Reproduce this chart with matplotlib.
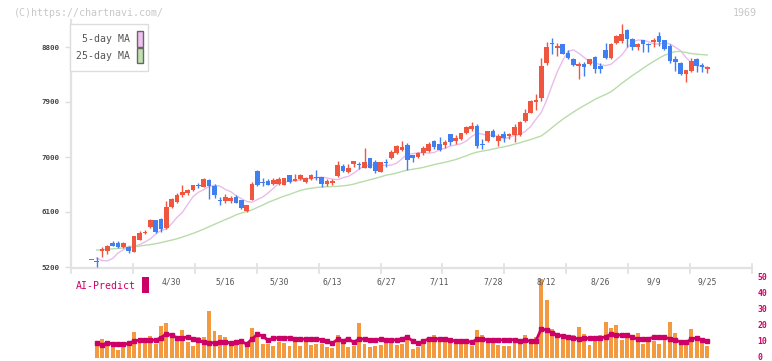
import numpy as np
import pandas as pd
import matplotlib
matplotlib.use("Agg")
import matplotlib.pyplot as plt
import matplotlib.transforms as mtransforms
from matplotlib.patches import Rectangle
from matplotlib.lines import Line2D

# ---------------- data ----------------
opens = [5315, 5300, 5467, 5467, 5593, 5588, 5522, 5533, 5450, 5642,
         5751, 5860, 5969, 5985, 5833, 6187, 6269, 6378, 6405, 6460,
         6535, 6514, 6624, 6530, 6290, 6280, 6280, 6345, 6296, 6116,
         6296, 6771, 6590, 6607, 6558, 6558, 6542, 6705, 6612, 6634,
         6596, 6640, 6665, 6672, 6558, 6569, 6694, 6852, 6760, 6890,
         6885, 6825, 6978, 6918, 6760, 6910, 6989, 7060, 7115, 7196,
         7033, 7005, 7060, 7103, 7256, 7212, 7196, 7376, 7262, 7289,
         7398, 7458, 7507, 7218, 7262, 7425, 7267, 7376, 7349, 7360,
         7360, 7589, 7725, 7905, 7960, 8533, 8865, 8789, 8849, 8696,
         8599, 8494, 8522, 8517, 8643, 8494, 8751, 8626, 8871, 8903,
         9078, 8930, 8805, 8914, 8852, 8887, 8985, 8914, 8816, 8604,
         8544, 8353, 8413, 8604, 8505, 8440]
highs = [5315, 5364, 5522, 5560, 5625, 5620, 5605, 5540, 5712, 5784,
         5805, 5980, 5975, 5997, 6285, 6324, 6416, 6542, 6481, 6550,
         6569, 6650, 6640, 6558, 6350, 6389, 6370, 6372, 6300, 6220,
         6596, 6787, 6651, 6640, 6661, 6670, 6655, 6710, 6716, 6720,
         6680, 6725, 6787, 6680, 6640, 6640, 6934, 6885, 6880, 6940,
         6923, 7150, 6985, 6951, 6925, 6962, 7115, 7200, 7262, 7224,
         7040, 7090, 7180, 7240, 7285, 7322, 7285, 7380, 7360, 7400,
         7510, 7567, 7540, 7294, 7430, 7460, 7370, 7420, 7400, 7540,
         7585, 7780, 7925, 8030, 8615, 8887, 8953, 8860, 8855, 8751,
         8620, 8560, 8560, 8610, 8650, 8533, 8865, 8865, 9000, 9176,
         9090, 8940, 8865, 8920, 8870, 8942, 9040, 8920, 8844, 8652,
         8550, 8430, 8626, 8615, 8544, 8489]
lows = [5315, 5205, 5359, 5413, 5540, 5518, 5510, 5434, 5445, 5636,
        5740, 5838, 5761, 5778, 5817, 6170, 6247, 6345, 6383, 6450,
        6488, 6505, 6307, 6334, 6214, 6242, 6250, 6242, 6144, 6105,
        6290, 6525, 6530, 6540, 6542, 6540, 6535, 6575, 6605, 6620,
        6580, 6625, 6624, 6514, 6525, 6550, 6680, 6754, 6740, 6832,
        6799, 6815, 6820, 6743, 6755, 6842, 6967, 7050, 7100, 6787,
        6923, 6985, 7040, 7090, 7130, 7100, 7150, 7190, 7220, 7280,
        7380, 7425, 7142, 7131, 7240, 7320, 7185, 7250, 7290, 7240,
        7350, 7567, 7715, 7769, 7916, 8505, 8680, 8658, 8685, 8600,
        8490, 8276, 8330, 8500, 8369, 8369, 8599, 8599, 8850, 8871,
        8794, 8751, 8751, 8713, 8723, 8805, 8816, 8751, 8544, 8413,
        8342, 8233, 8397, 8397, 8397, 8369]
closes = [5315, 5290, 5500, 5549, 5544, 5522, 5588, 5467, 5707, 5760,
          5778, 5969, 5778, 5822, 6187, 6307, 6378, 6432, 6460, 6537,
          6525, 6646, 6525, 6378, 6280, 6340, 6334, 6252, 6160, 6214,
          6558, 6542, 6580, 6547, 6624, 6640, 6651, 6586, 6634, 6705,
          6661, 6705, 6655, 6558, 6612, 6612, 6869, 6771, 6820, 6934,
          6875, 6918, 6825, 6776, 6918, 6900, 7076, 7185, 7158, 6945,
          6989, 7071, 7152, 7212, 7163, 7114, 7250, 7250, 7305, 7387,
          7486, 7512, 7185, 7196, 7425, 7332, 7343, 7305, 7376, 7496,
          7578, 7725, 7916, 7932, 8489, 8794, 8855, 8816, 8691, 8615,
          8505, 8522, 8478, 8599, 8440, 8440, 8626, 8849, 8980, 9012,
          8930, 8794, 8849, 8843, 8846, 8914, 8887, 8767, 8577, 8560,
          8358, 8424, 8571, 8494, 8467, 8467]

# moving-average values before enough history exists
ma5_head = [np.nan, 5345, 5305, 5300, 5340, 5430]
ma25_head = [np.nan, 5478, 5483, 5490, 5497, 5505, 5513, 5522, 5532, 5543,
             5555, 5567, 5580, 5598, 5620, 5640, 5662, 5690, 5720, 5750,
             5785, 5820, 5860, 5898, 5937, 5975]

volume = [0, 9.8, 11.7, 8.6, 6.7, 4.8, 7.9, 10.4, 16, 12.3,
          9.8, 13.6, 8.6, 19.8, 21.7, 12.9, 12.1, 17.3, 9.8, 7.3,
          12.9, 12.9, 29.2, 16.7, 14, 12.7, 7.3, 9.8, 8.6, 9.2,
          18.5, 12.9, 8.6, 8.6, 7.3, 9.8, 9.2, 7.3, 9.8, 7.3,
          11, 8, 8.6, 8.6, 6.9, 6.3, 14.2, 9.4, 6.9, 7.3,
          21.7, 8.6, 6.7, 7.3, 7.9, 9.2, 9.2, 7.9, 8.6, 14.2,
          5.4, 6.7, 8.6, 9.8, 14.2, 12.5, 9.8, 11.7, 8.6, 9.8,
          9.8, 7.3, 17.3, 14.2, 10.4, 11.7, 7.9, 7.3, 7.3, 10.4,
          8.6, 14.2, 11.7, 12.9, 49.2, 36, 18, 13.6, 12.9, 11.7,
          14.2, 19.2, 14.8, 7.9, 11.7, 14.2, 22.3, 18.5, 20.4, 11,
          12.3, 11.7, 15.4, 8.6, 9.8, 10.4, 8.6, 14.2, 22.3, 15.4,
          9.2, 11, 18, 12.3, 9.8, 7.3]
ai_predict = [np.nan, 9.4, 7.8, 9.4, 8.6, 8.3, 8.3, 9.0, 10.4, 11,
              11, 11, 11, 12.5, 15, 14, 12.5, 12.5, 12.8, 11.8,
              10.8, 9.6, 9.2, 9.4, 9.6, 9.6, 9.4, 9.6, 10.2, 8.5,
              11.7, 14.6, 13.6, 10.8, 12.2, 12.5, 12.5, 12.5, 11.5, 11.8,
              11.5, 11.5, 11.7, 11.3, 10.2, 9.0, 11.5, 10.6, 11.7, 9.6,
              11.7, 11.7, 11.2, 10.8, 11.7, 11.3, 11.3, 11, 11.9, 12.7,
              10.5, 9.0, 10.2, 11.9, 11.9, 11.7, 11.7, 10.8, 10.6, 10.4,
              10.4, 9.6, 11.5, 11.5, 11.3, 11.3, 11.3, 11, 11.3, 11.3,
              10.2, 11, 10.2, 10.5, 18.2, 17.1, 15.7, 14.2, 13.5, 13.2,
              12.1, 11.9, 12.1, 12.1, 12.1, 12.1, 13.2, 14.6, 14.2, 14.2,
              14, 12.7, 11.7, 11.7, 11.9, 12.7, 12.7, 12.7, 11.9, 11,
              9.9, 9.6, 11.5, 12.5, 11, 10.4]

date_labels = ['4/30', '5/16', '5/30', '6/13', '6/27', '7/11',
               '7/28', '8/12', '8/26', '9/9', '9/25']
date_label_idx = [15, 25, 35, 45, 55, 65, 75, 85, 95, 105, 115]
price_ticks = [5200, 6100, 7000, 7900, 8800]
vol_ticks = [0, 10, 20, 30, 40, 50]

# ---------------- derived series ----------------
n = len(closes)
idx = np.arange(n)
c = pd.Series(closes[1:], index=idx[1:], dtype=float)
ma5 = c.rolling(5).mean().shift(1).reindex(idx)
ma25 = c.rolling(25).mean().shift(1).reindex(idx)
for k, v in enumerate(ma5_head):
    ma5.iloc[k] = v
for k, v in enumerate(ma25_head):
    ma25.iloc[k] = v

# ---------------- layout ----------------
W, H = 772, 361
fig = plt.figure(figsize=(W / 100, H / 100), dpi=100)
fig.patch.set_facecolor('white')
MONO = 'DejaVu Sans Mono'

def fx(px):
    return px / W

def fy(py):
    return 1 - py / H

X_L, X_R = 71, 752
X0, DX = 91.3, 5.357
xlim = ((X_L - X0) / DX, (X_R - X0) / DX)

PY_TOP, PY_BOT = 20, 268
PPX = 900 / 55.0

def price_at(py):
    return 5200 + (267 - py) * PPX

ax = fig.add_axes([fx(X_L), fy(PY_BOT), fx(X_R - X_L), (PY_BOT - PY_TOP) / H])
ax.set_xlim(*xlim)
ax.set_ylim(price_at(PY_BOT), price_at(PY_TOP))
for s in ['top', 'right']:
    ax.spines[s].set_visible(False)
for s in ['left', 'bottom']:
    ax.spines[s].set_color('#e2e2e2')
    ax.spines[s].set_linewidth(1.6)
ax.set_xticks([])
ax.set_yticks(price_ticks)
ax.set_yticklabels([str(t) for t in price_ticks], family=MONO, fontsize=5.4,
                   color='#444444', fontweight='bold')
ax.tick_params(axis='y', length=4.3, width=1, color='#dddddd', pad=4)

UP, DOWN = '#f0553f', '#3f7fef'
MIN_H = PPX * 1.0
for i in range(n):
    o, h, l, cl = opens[i], highs[i], lows[i], closes[i]
    col = UP if cl >= o else DOWN
    if h > l:
        ax.vlines(i, l, h, color=col, linewidth=1.0, zorder=3)
    body = abs(cl - o)
    bot = min(o, cl)
    if body < MIN_H:
        bot = (o + cl) / 2 - MIN_H / 2
        body = MIN_H
    ax.bar(i, body, bottom=bot, width=0.86, color=col, linewidth=0, zorder=4)

ax.plot(idx, ma5.values, color='#eabcea', linewidth=1.0, zorder=2)
ax.plot(idx, ma25.values, color='#b8dcaa', linewidth=1.0, zorder=2)

# x-axis division ticks
for k in range(12):
    xp = X_L + (X_R - X_L) * k / 11
    fig.add_artist(Line2D([fx(xp), fx(xp)], [fy(264), fy(273)],
                          color='#e2e2e2', linewidth=1.3))

# date labels
for lab, i in zip(date_labels, date_label_idx):
    xp = X0 + i * DX
    fig.text(fx(xp), fy(282), lab, ha='center', va='center', family=MONO,
             fontsize=5.8, color='#555555')

# legend
fig.add_artist(Rectangle((fx(70.3), fy(71.3)), fx(78), 47.3 / H,
                         facecolor='white', edgecolor='#dddddd', linewidth=1,
                         transform=fig.transFigure, zorder=5))
fig.text(fx(129.5), fy(39), '5-day MA', ha='right', va='center', family=MONO,
         fontsize=7.1, color='#555555', zorder=6)
fig.text(fx(129.5), fy(56), '25-day MA', ha='right', va='center', family=MONO,
         fontsize=7.1, color='#555555', zorder=6)
fig.add_artist(Rectangle((fx(136.5), fy(46.5)), fx(6), 15 / H,
                         facecolor='#f0c0f0', edgecolor='#666666', linewidth=1,
                         transform=fig.transFigure, zorder=6))
fig.add_artist(Rectangle((fx(136.5), fy(63.3)), fx(6), 15 / H,
                         facecolor='#c0e0b0', edgecolor='#666666', linewidth=1,
                         transform=fig.transFigure, zorder=6))

# watermark texts
fig.text(fx(14), fy(12.5), '(C)https://chartnavi.com/', ha='left', va='center',
         family=MONO, fontsize=7.2, color='#c8c8c8')
fig.text(fx(757), fy(12.5), '1969', ha='right', va='center',
         family=MONO, fontsize=7.2, color='#c8c8c8')

# ---------------- volume / AI panel ----------------
V_TOP, V_BOT = 277.7, 357.7
ax2 = fig.add_axes([fx(X_L), fy(V_BOT), fx(X_R - X_L), (V_BOT - V_TOP) / H])
ax2.set_xlim(*xlim)
ax2.set_ylim(0, 50)
for s in ax2.spines.values():
    s.set_visible(False)
ax2.set_xticks([])
ax2.yaxis.tick_right()
ax2.set_yticks(vol_ticks)
ax2.set_yticklabels([str(t) for t in vol_ticks], family=MONO, fontsize=5.9,
                    color='#cc0066', fontweight='bold')
ax2.tick_params(axis='y', length=0, pad=4)
shift_up = mtransforms.ScaledTranslation(0, 1.5 / 100, fig.dpi_scale_trans)
for lab in ax2.get_yticklabels():
    lab.set_verticalalignment('center_baseline')
    lab.set_transform(lab.get_transform() + shift_up)
ax2.patch.set_alpha(0)

ax2.bar(idx, volume, width=0.74, color='#f39a40', linewidth=0, zorder=2)
ax2.plot(idx, ai_predict, color='#cc0066', linewidth=2.0, marker='s',
         markersize=2.3, zorder=3)

fig.text(fx(75.5), fy(285.7), 'AI-Predict', ha='left', va='center',
         family=MONO, fontsize=7.1, color='#cc0066')
fig.add_artist(Rectangle((fx(142), fy(292.7)), fx(7), 15.7 / H,
                         facecolor='#cc0066', edgecolor='none',
                         transform=fig.transFigure))

fig.savefig('out.png', dpi=100, facecolor='white')
